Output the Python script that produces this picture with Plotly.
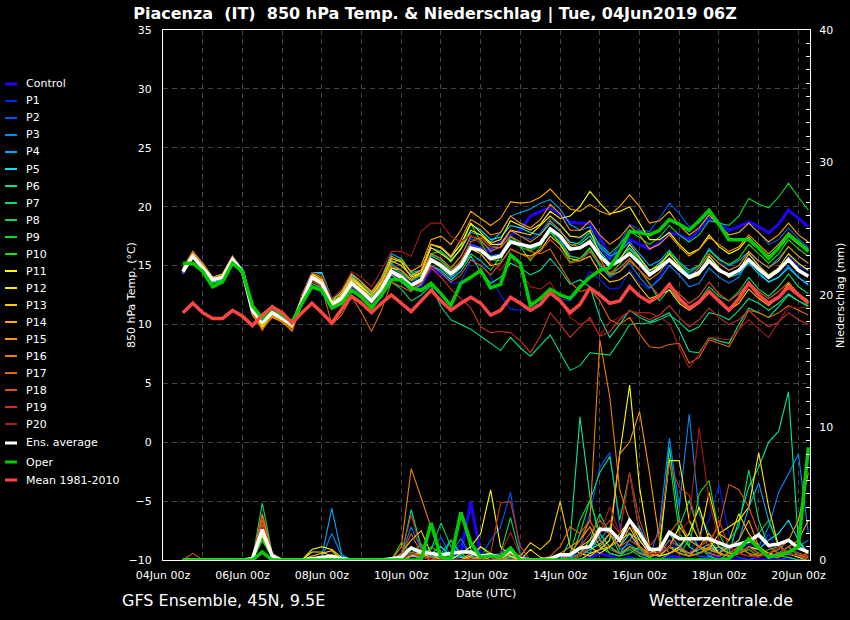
import pandas as pd
import plotly.graph_objects as go

# ---------------- time axis (6-hourly, run 04Jun2019 06Z) ----------------
times = pd.date_range("2019-06-04 12:00", periods=64, freq="6h")

# ---------------- 850 hPa temperature (deg C) ----------------
t_control = [14.3, 15.9, 14.9, 13.9, 14.1, 15.6, 14.6, 11.0,
             10.1, 11.1, 10.4, 9.9, 12.1, 14.2, 13.4, 11.5,
             12.3, 13.7, 12.9, 12.2, 12.8, 14.3, 13.8, 13.0,
             13.3, 14.8, 14.3, 13.8, 15.0, 16.6, 16.5, 16.2,
             17.0, 17.6, 18.0, 19.2, 19.6, 19.9, 19.3, 18.7,
             18.6, 18.6, 17.4, 15.7, 16.3, 17.2, 16.8, 16.4,
             16.9, 17.8, 17.6, 17.2, 18.0, 19.0, 18.6, 18.0,
             18.3, 18.7, 18.3, 17.8, 18.5, 19.7, 19.0, 18.3]
t_p01 = [14.4, 15.7, 14.7, 13.7, 13.9, 15.4, 14.4, 11.3,
         10.3, 10.9, 10.4, 10.0, 11.8, 13.8, 13.2, 11.8,
         12.4, 13.8, 12.6, 11.5, 13.3, 14.8, 14.2, 13.1,
         13.3, 15.0, 14.5, 13.5, 13.6, 15.4, 15.5, 14.0,
         12.5, 11.3, 11.2, 11.5, 11.8, 12.5, 12.2, 12.0,
         13.0, 14.5, 13.8, 13.0, 13.1, 14.6, 13.5, 13.0,
         14.0, 15.5, 14.8, 14.2, 15.0, 16.5, 15.5, 14.6,
         15.0, 16.2, 15.0, 14.0, 14.5, 15.8, 15.0, 14.5]
t_p02 = [14.6, 15.9, 14.8, 13.8, 14.0, 15.6, 14.7, 11.4,
         10.2, 11.2, 10.6, 10.1, 12.2, 14.3, 13.8, 11.9,
         12.0, 13.2, 12.5, 11.8, 13.2, 14.9, 14.3, 13.5,
         14.2, 16.0, 15.6, 14.8, 15.8, 17.3, 17.0, 16.4,
         16.8, 18.0, 17.5, 17.2, 17.8, 19.0, 18.4, 17.5,
         17.3, 17.8, 16.5, 15.5, 16.8, 18.5, 18.0, 17.9,
         19.0, 20.3, 19.4, 18.3, 18.6, 19.5, 18.5, 17.6,
         17.8, 18.6, 17.8, 16.8, 17.2, 18.2, 17.3, 16.5]
t_p03 = [14.5, 15.8, 14.9, 13.9, 14.2, 15.6, 14.5, 11.0,
         10.0, 10.8, 10.3, 9.8, 11.9, 14.1, 13.6, 11.6,
         12.2, 13.4, 12.9, 12.3, 13.5, 15.2, 14.6, 13.8,
         14.3, 15.8, 15.4, 14.6, 15.2, 16.8, 16.5, 15.8,
         16.0, 17.4, 17.0, 16.5, 16.8, 18.0, 17.2, 15.8,
         15.6, 16.2, 15.0, 14.0, 14.5, 15.2, 14.0, 13.1,
         13.8, 15.0, 14.2, 13.2, 13.5, 14.8, 14.0, 13.5,
         14.0, 15.5, 14.5, 13.6, 14.0, 15.0, 14.0, 13.3]
t_p04 = [14.6, 16.0, 15.0, 13.9, 14.1, 15.6, 14.5, 10.8,
         9.8, 10.9, 10.4, 9.9, 12.4, 14.4, 14.3, 12.0,
         12.8, 14.3, 13.6, 12.6, 14.0, 16.0, 15.6, 14.4,
         14.6, 16.5, 16.2, 15.5, 16.4, 17.8, 17.6, 17.0,
         17.8, 19.2, 19.5, 19.8, 20.3, 20.6, 19.8, 18.5,
         18.0, 18.3, 16.6, 15.8, 16.2, 17.0, 16.0, 15.0,
         15.4, 16.3, 15.3, 14.6, 15.0, 16.4, 15.6, 15.0,
         15.4, 16.2, 15.4, 14.8, 15.6, 16.6, 15.8, 15.2]
t_p05 = [14.7, 16.0, 15.1, 14.0, 14.2, 15.7, 14.6, 10.9,
         9.7, 10.7, 10.3, 9.8, 12.5, 14.4, 14.4, 12.2,
         12.6, 14.2, 13.3, 12.5, 13.6, 15.4, 15.0, 14.2,
         14.6, 16.8, 16.5, 15.8, 16.8, 18.5, 18.0, 17.2,
         17.4, 18.4, 18.2, 17.8, 17.6, 18.6, 17.9, 17.0,
         16.8, 17.5, 16.2, 15.2, 15.6, 16.5, 15.6, 14.5,
         15.2, 16.0, 15.0, 14.2, 14.5, 15.8, 14.8, 14.0,
         14.3, 15.2, 14.3, 13.6, 14.0, 14.8, 14.0, 13.4]
t_p06 = [14.4, 15.7, 14.7, 13.6, 13.8, 15.3, 14.3, 11.2,
         10.3, 11.1, 10.5, 10.0, 11.8, 13.7, 13.3, 11.5,
         12.0, 13.3, 12.6, 11.9, 12.8, 14.2, 13.6, 12.9,
         13.4, 15.0, 14.6, 13.8, 14.5, 15.8, 14.5, 13.5,
         14.0, 15.2, 14.8, 14.2, 14.6, 15.6, 14.6, 13.4,
         13.8, 13.2, 10.6, 8.9, 10.0, 11.2, 10.6, 10.2,
         10.6, 11.0, 9.5, 7.7, 7.6, 8.9, 8.6, 8.4,
         10.0, 11.4, 11.0, 10.6, 11.5, 12.5, 12.0, 11.5]
t_p07 = [14.3, 15.6, 14.6, 13.5, 13.7, 15.2, 14.3, 11.5,
         10.5, 11.2, 10.6, 10.1, 11.6, 13.5, 13.1, 11.3,
         11.8, 13.0, 12.4, 11.6, 12.3, 13.6, 13.0, 12.0,
         12.5, 13.3, 11.5, 10.4, 10.0, 9.6, 9.0, 8.4,
         7.8, 8.9, 8.0, 7.3, 8.2, 9.1, 7.6, 6.1,
         6.5, 7.6, 7.5, 7.4, 8.6, 10.0, 10.1, 10.1,
         10.4, 10.8, 10.2, 9.4, 9.8, 11.0, 10.8, 10.4,
         11.2, 12.2, 11.8, 11.2, 11.8, 12.6, 12.0, 11.6]
t_p08 = [14.6, 15.9, 14.9, 13.7, 14.0, 15.5, 14.4, 11.3,
         10.1, 11.0, 10.7, 10.2, 12.2, 13.9, 13.6, 12.0,
         12.5, 13.9, 13.2, 12.4, 13.3, 14.6, 14.1, 13.4,
         13.9, 15.4, 14.8, 14.0, 14.8, 16.0, 15.4, 14.6,
         15.8, 17.0, 16.6, 16.2, 16.8, 17.8, 17.0, 15.8,
         15.6, 16.4, 15.0, 14.2, 14.8, 15.6, 14.6, 13.5,
         12.0, 13.0, 12.0, 11.4, 12.0, 13.2, 12.4, 12.0,
         12.8, 14.0, 13.0, 12.4, 13.2, 14.3, 13.2, 12.6]
t_p09 = [14.5, 15.7, 14.8, 13.8, 14.1, 15.6, 14.5, 11.1,
         10.0, 10.8, 10.4, 9.9, 12.0, 14.1, 13.5, 11.6,
         12.4, 13.7, 12.9, 12.2, 13.2, 14.8, 14.4, 13.7,
         14.2, 15.9, 15.4, 14.6, 15.2, 16.6, 16.2, 15.5,
         15.9, 17.2, 16.8, 16.4, 16.8, 18.2, 17.4, 16.6,
         17.0, 17.8, 16.8, 16.0, 16.8, 17.9, 17.4, 16.8,
         17.4, 18.4, 17.6, 17.0, 17.6, 18.8, 18.6, 18.4,
         19.2, 20.7, 20.2, 19.9, 20.8, 22.0, 20.8, 19.7]
t_p10 = [14.7, 16.0, 14.9, 13.9, 14.2, 15.7, 14.6, 11.0,
         9.9, 10.9, 10.3, 9.8, 12.1, 14.2, 13.7, 11.8,
         12.3, 13.6, 13.0, 12.3, 13.5, 15.2, 15.6, 14.4,
         14.0, 16.0, 16.2, 15.3, 16.5, 18.6, 17.0, 15.5,
         15.4, 17.5, 16.6, 15.4, 16.6, 18.0, 16.8, 15.3,
         15.6, 16.5, 15.2, 14.3, 15.1, 16.4, 15.4, 14.3,
         15.0, 16.2, 15.2, 14.4, 15.0, 16.3, 15.5, 15.1,
         15.6, 16.8, 16.0, 15.2, 16.0, 17.2, 16.4, 15.8]
t_p11 = [14.6, 16.0, 15.0, 13.9, 14.1, 15.6, 14.5, 10.9,
         9.8, 10.7, 10.2, 9.5, 12.3, 14.3, 13.8, 11.6,
         12.6, 14.0, 13.2, 12.4, 13.6, 15.6, 15.3, 14.0,
         14.4, 16.8, 16.5, 15.7, 16.8, 18.6, 17.8, 16.9,
         17.2, 18.8, 18.4, 18.0, 18.5, 19.6, 19.0, 19.2,
         20.0, 21.3, 20.3, 19.4, 19.6, 20.0, 18.6, 17.2,
         17.2, 17.8, 16.8, 16.0, 16.4, 17.6, 16.6, 16.0,
         16.4, 17.4, 16.5, 15.8, 16.4, 17.5, 16.8, 16.2]
t_p12 = [14.5, 15.9, 14.9, 13.9, 14.0, 15.5, 14.4, 11.0,
         10.1, 11.0, 10.4, 9.7, 12.0, 14.0, 13.6, 11.9,
         12.4, 13.8, 13.1, 12.0, 13.0, 14.8, 14.6, 13.8,
         14.4, 16.5, 16.0, 15.4, 16.4, 18.0, 17.6, 16.8,
         16.8, 18.0, 17.8, 17.6, 18.4, 19.2, 18.5, 17.5,
         17.4, 18.0, 16.0, 14.8, 15.5, 16.8, 15.7, 14.6,
         15.0, 16.0, 15.0, 13.9, 14.2, 15.8, 14.8, 14.0,
         14.6, 16.0, 15.0, 14.2, 14.8, 16.0, 15.2, 14.6]
t_p13 = [14.4, 15.8, 14.8, 13.8, 13.9, 15.4, 14.5, 11.2,
         10.3, 11.1, 10.6, 10.0, 11.9, 13.9, 13.4, 11.7,
         12.2, 13.6, 12.9, 12.1, 13.1, 14.6, 14.2, 13.4,
         13.8, 15.4, 15.0, 14.4, 15.0, 16.4, 16.0, 15.0,
         15.2, 16.4, 16.0, 15.8, 16.3, 17.5, 16.8, 15.6,
         15.4, 15.8, 14.4, 13.6, 13.8, 14.4, 13.2, 12.2,
         12.5, 12.9, 11.8, 11.2, 11.8, 12.9, 12.0, 11.2,
         11.8, 13.0, 12.2, 11.6, 12.3, 13.5, 12.6, 12.0]
t_p14 = [14.8, 16.2, 15.2, 14.0, 14.3, 15.8, 14.6, 11.0,
         9.7, 10.7, 10.3, 9.8, 12.5, 14.4, 14.0, 12.0,
         12.8, 14.3, 13.6, 12.8, 13.9, 15.8, 15.4, 14.5,
         15.0, 17.2, 17.5, 16.8, 18.0, 19.6, 19.0, 18.4,
         19.0, 20.4, 20.3, 20.4, 20.8, 21.5, 20.6, 19.8,
         19.6, 20.2, 19.6, 19.3, 20.0, 21.0, 20.0, 18.6,
         18.8, 19.6, 18.4, 17.6, 18.2, 19.3, 18.4, 17.6,
         17.8, 18.6, 17.8, 17.0, 17.6, 18.6, 17.6, 17.0]
t_p15 = [14.6, 16.1, 15.0, 14.0, 14.1, 15.6, 14.6, 11.1,
         10.0, 11.0, 10.4, 9.9, 12.3, 14.2, 13.7, 11.6,
         12.5, 14.0, 13.4, 12.7, 13.7, 15.4, 15.0, 14.1,
         14.6, 16.8, 16.6, 15.8, 17.2, 18.9, 18.4, 17.6,
         17.8, 19.2, 18.6, 18.2, 18.9, 20.2, 19.4, 18.0,
         18.0, 18.8, 17.6, 16.8, 17.4, 18.4, 17.6, 16.4,
         16.8, 17.6, 16.6, 15.8, 16.4, 17.4, 16.8, 16.2,
         16.6, 17.6, 16.8, 16.0, 16.8, 17.8, 17.0, 16.4]
t_p16 = [14.7, 16.2, 15.1, 13.9, 14.0, 15.6, 14.4, 10.8,
         9.6, 10.6, 10.2, 9.5, 12.0, 14.1, 13.6, 11.8,
         12.3, 13.6, 13.0, 12.4, 13.4, 15.0, 14.6, 13.8,
         14.3, 16.0, 15.6, 14.8, 15.8, 17.5, 17.2, 16.2,
         16.6, 18.0, 17.5, 17.0, 17.6, 18.8, 18.0, 16.8,
         16.6, 17.2, 15.6, 14.2, 14.5, 15.4, 14.6, 13.8,
         14.4, 15.6, 14.8, 14.0, 14.8, 16.0, 15.2, 14.6,
         15.0, 16.2, 15.4, 14.8, 15.4, 16.6, 15.8, 15.2]
t_p17 = [14.5, 16.0, 15.0, 13.9, 14.0, 15.5, 14.3, 11.0,
         9.5, 10.8, 10.3, 9.4, 11.8, 13.8, 13.2, 10.0,
         10.8, 12.4, 11.0, 9.4, 11.2, 13.6, 13.2, 12.8,
         13.6, 15.6, 15.2, 14.5, 15.4, 17.0, 17.4, 16.6,
         16.5, 17.5, 17.0, 16.2, 16.0, 16.4, 15.0, 13.6,
         12.8, 13.0, 12.0, 10.4, 10.0, 10.6, 9.2, 8.1,
         8.0, 8.3, 8.4, 6.7, 7.2, 8.7, 8.4, 8.1,
         9.6, 11.2, 11.0, 10.6, 11.0, 11.6, 11.2, 10.8]
t_p18 = [14.4, 15.7, 14.8, 13.8, 13.9, 15.4, 14.4, 11.4,
         10.4, 11.2, 10.6, 10.1, 12.0, 13.8, 13.3, 11.5,
         12.0, 13.4, 12.7, 12.0, 13.0, 14.4, 13.9, 13.2,
         13.6, 15.0, 14.4, 13.6, 14.2, 15.5, 15.0, 14.2,
         15.2, 16.4, 16.0, 15.6, 16.2, 17.2, 16.4, 15.2,
         15.4, 16.2, 15.2, 14.4, 14.8, 15.6, 14.6, 13.4,
         12.4, 13.4, 12.6, 11.8, 12.4, 13.6, 12.6, 12.0,
         12.6, 13.6, 12.8, 12.2, 12.8, 13.6, 12.6, 11.8]
t_p19 = [14.3, 15.6, 14.6, 13.7, 13.9, 15.4, 14.5, 11.3,
         10.4, 11.3, 10.7, 10.2, 11.9, 13.7, 13.2, 11.6,
         12.1, 13.3, 12.6, 11.8, 12.9, 14.3, 13.8, 13.0,
         13.5, 14.8, 14.0, 13.0, 12.2, 11.4, 9.8, 9.3,
         9.4, 9.3, 8.6, 7.6, 9.0, 11.0, 10.0, 8.9,
         9.8, 10.6, 9.0, 9.4, 10.4, 11.2, 10.8, 10.4,
         10.8, 11.6, 10.6, 9.8, 10.4, 11.4, 10.6, 10.0,
         10.4, 11.2, 10.4, 9.8, 10.2, 11.0, 10.4, 10.0]
t_p20 = [14.5, 15.9, 14.9, 13.9, 14.1, 15.6, 14.6, 11.2,
         10.3, 11.2, 10.8, 10.3, 12.4, 14.4, 14.2, 12.2,
         13.0, 14.5, 14.0, 13.2, 14.6, 16.2, 16.2, 15.8,
         17.9, 18.6, 18.6, 17.5, 17.0, 17.6, 16.8, 15.2,
         14.6, 15.8, 14.6, 13.2, 13.0, 13.6, 12.2, 10.6,
         10.0, 10.4, 9.1, 10.2, 10.6, 11.1, 11.0, 11.0,
         10.6, 10.1, 8.0, 6.3, 7.5, 8.9, 8.8, 8.7,
         9.6, 10.4, 9.6, 8.9, 10.2, 11.5, 11.4, 11.5]
t_ensavg = [14.5, 15.8, 14.8, 13.8, 14.0, 15.5, 14.5, 11.2,
            10.2, 11.0, 10.5, 10.0, 12.0, 14.0, 13.5, 11.7,
            12.2, 13.5, 12.8, 12.0, 13.0, 14.5, 14.0, 13.3,
            13.8, 15.5, 15.0, 14.3, 15.0, 16.5, 16.3, 15.6,
            15.8, 17.0, 16.8, 16.6, 16.9, 18.1, 17.5, 16.4,
            16.5, 17.0, 15.8, 15.0, 15.4, 16.0, 15.2, 14.2,
            14.8, 15.5, 14.7, 14.0, 14.4, 15.4, 14.6, 14.2,
            14.6, 15.5, 14.7, 14.0, 14.6, 15.5, 14.6, 14.1]
t_oper = [15.2, 15.2, 14.5, 13.2, 13.6, 15.2, 14.5, 11.6,
          10.5, 11.5, 10.8, 10.2, 11.8, 13.2, 12.9, 11.4,
          11.8, 12.9, 12.3, 11.4, 12.5, 13.8, 13.8, 13.1,
          12.9, 13.5, 12.6, 11.6, 13.5, 14.0, 14.6, 13.1,
          13.4, 15.9, 15.2, 11.6, 12.2, 13.0, 12.5, 12.2,
          13.2, 14.0, 14.6, 14.8, 16.2, 17.9, 17.8, 17.6,
          18.0, 18.9, 18.5, 18.0, 18.8, 19.7, 18.5, 17.2,
          17.2, 17.2, 16.5, 15.6, 16.5, 17.6, 17.0, 16.2]
t_mean = [11.0, 11.8, 11.0, 10.5, 10.5, 11.2, 10.7, 9.9,
          10.8, 11.5, 11.0, 10.1, 11.0, 11.8, 11.0, 10.1,
          11.3, 12.4, 11.8, 11.0, 11.8, 12.5, 11.8, 11.1,
          12.0, 12.9, 12.0, 11.2, 11.8, 12.3, 11.8, 10.8,
          11.2, 12.3, 11.8, 11.2, 11.7, 12.7, 12.0, 11.0,
          11.7, 13.1, 12.5, 11.8, 12.0, 13.2, 12.4, 11.9,
          12.4, 13.4, 12.2, 11.4, 11.9, 12.8, 12.0, 11.2,
          12.2, 13.5, 12.5, 11.8, 12.3, 13.2, 12.5, 11.8]

# ---------------- precipitation (mm / 6h) ----------------
p_control = [0, 0, 0, 0, 0, 0, 0, 0,
             2.3, 0.2, 0, 0, 0, 0, 0.1, 0.2,
             0, 0, 0, 0, 0, 0, 0, 0.3,
             0.2, 0.3, 0, 0.2, 0.5, 4.4, 0.3, 0,
             0, 0.2, 0, 0, 0, 0, 0.2, 0.3,
             0, 0.2, 0.5, 0.3, 0, 0.2, 0, 0,
             0, 0.3, 0.2, 0, 0, 0.3, 0.2, 0,
             0, 0, 0, 0, 0, 0, 0, 0]
p_p01 = [0, 0, 0, 0, 0, 0, 0, 0,
         2.0, 0.3, 0, 0, 0, 0, 0, 0.1,
         0, 0, 0, 0, 0, 0, 0.2, 1.0,
         0.3, 0, 0, 0.4, 1.2, 0.5, 0, 0,
         0.2, 0.5, 0, 0, 0, 0, 0.3, 0,
         0.5, 1.2, 2.0, 1.0, 0.3, 0.8, 0.5, 0,
         0.3, 1.5, 0.8, 0.5, 1.8, 3.0, 5.7, 2.0,
         0.8, 1.2, 0.5, 2.0, 0.6, 0.3, 0.5, 0.2]
p_p02 = [0, 0, 0, 0, 0, 0, 0, 0,
         2.2, 0.2, 0, 0, 0, 0, 0, 0.2,
         0, 0, 0, 0, 0, 0, 0.3, 0.5,
         0.8, 0.9, 1.7, 0.3, 0, 0.4, 0.2, 1.5,
         2.5, 5.1, 0.5, 0, 0, 0, 0, 0.2,
         0.8, 3.5, 7.0, 8.1, 2.5, 2.0, 0.8, 0.3,
         0.5, 1.5, 1.0, 0.5, 0.3, 0.2, 0.8, 0.5,
         0.2, 0, 0.3, 0.5, 0, 0.2, 0, 0]
p_p03 = [0, 0, 0, 0, 0, 0, 0, 0,
         1.7, 0.3, 0, 0, 0, 0, 0.2, 2.0,
         0.3, 0, 0, 0, 0, 0, 0.4, 2.5,
         0.8, 0.3, 0.2, 0.5, 1.6, 0.4, 0, 0.3,
         0.5, 1.0, 0, 0, 0, 0, 0.5, 0.2,
         0.5, 1.0, 1.5, 2.5, 0.8, 1.2, 0.6, 0.2,
         2.5, 9.2, 4.0, 11.0, 3.5, 2.0, 0.5, 0.3,
         0.5, 1.5, 1.0, 2.5, 5.1, 6.5, 8.0, 2.0]
p_p04 = [0, 0, 0, 0, 0, 0, 0, 0,
         1.5, 0.2, 0, 0, 0, 0, 0.3, 3.9,
         0.4, 0, 0, 0, 0, 0, 0, 0.5,
         0.3, 0, 0.5, 1.5, 0.3, 0, 0, 0,
         0, 0.3, 0, 0, 0, 0, 0, 0.3,
         0.8, 0.5, 2.0, 1.0, 0.5, 1.5, 2.5, 0.8,
         0.3, 1.0, 0.8, 2.0, 1.0, 0.5, 1.0, 0.8,
         1.5, 4.0, 5.8, 3.0, 1.2, 0.5, 1.0, 1.5]
p_p05 = [0, 0, 0, 0, 0, 0, 0, 0,
         2.0, 0.3, 0, 0, 0, 0, 0, 0.3,
         0, 0, 0, 0, 0, 0, 0, 0.3,
         0.2, 0.5, 1.0, 0.3, 0.2, 0, 0.2, 0,
         0.5, 0.3, 0, 0, 0, 0, 0, 0,
         0.3, 0.8, 1.2, 2.0, 1.0, 2.0, 1.5, 0.5,
         0.5, 2.0, 1.0, 0.5, 0.8, 1.2, 0.5, 0.3,
         0.5, 1.0, 0.8, 1.5, 2.0, 3.0, 1.5, 0.5]
p_p06 = [0, 0, 0, 0, 0, 0, 0, 0,
         2.0, 0.3, 0, 0, 0, 0, 0, 0.2,
         0, 0, 0, 0, 0, 0, 0.3, 3.8,
         1.0, 0.3, 0, 0, 0.5, 0, 0, 0,
         0, 0.5, 0, 0, 0, 0, 0, 1.5,
         10.8, 4.8, 1.5, 0.5, 0.3, 1.0, 0.5, 0.2,
         0.5, 8.5, 3.0, 1.0, 0.5, 0.8, 1.0, 0.5,
         3.0, 5.5, 7.0, 8.9, 9.7, 12.7, 1.3, 0.5]
p_p07 = [0, 0, 0, 0, 0, 0, 0, 0,
         4.3, 0.5, 0, 0, 0, 0, 0, 0,
         0, 0, 0, 0, 0, 0, 0.5, 1.0,
         0.3, 0.5, 0.2, 0, 0, 0.3, 0, 0,
         0, 0.2, 0, 0, 0, 0, 0, 0,
         2.0, 4.5, 6.6, 7.8, 3.0, 6.6, 2.0, 0.5,
         0.3, 1.0, 2.5, 4.5, 2.0, 1.0, 0.5, 1.5,
         2.5, 6.8, 3.0, 1.0, 0.5, 1.0, 0.3, 0]
p_p08 = [0, 0, 0, 0, 0, 0, 0, 0,
         3.0, 0.3, 0, 0, 0, 0, 0, 0,
         0, 0, 0, 0, 0, 0, 0, 1.0,
         0.5, 0.8, 2.8, 1.0, 0.3, 0, 0, 0,
         0.5, 3.2, 0.3, 0, 0, 0, 0, 0,
         0.5, 1.5, 3.5, 2.0, 0.5, 1.0, 0.8, 0.2,
         0.5, 1.0, 0.5, 1.5, 1.0, 0.3, 0, 0.5,
         1.0, 0.5, 0.3, 0.8, 1.0, 0.5, 0.2, 0]
p_p09 = [0, 0, 0, 0, 0, 0, 0, 0,
         2.1, 0.2, 0, 0, 0, 0, 0, 0,
         0, 0, 0, 0, 0, 0, 0, 0.5,
         1.2, 0.3, 0, 1.5, 0.5, 0, 1.0, 0.3,
         0, 0.5, 0, 0, 0, 0, 0, 0.5,
         3.0, 4.5, 2.0, 1.0, 0.5, 0.8, 0.3, 0,
         0, 0.5, 0.8, 0.3, 0.5, 1.0, 0.5, 0.3,
         0.8, 1.5, 2.0, 3.0, 1.0, 0.5, 0.3, 0]
p_p10 = [0, 0, 0, 0, 0, 0, 0, 0,
         1.5, 0.2, 0, 0, 0, 0, 0, 0,
         0, 0, 0, 0, 0, 0, 1.3, 0.5,
         0, 1.0, 0.5, 0.3, 3.5, 0.8, 0, 0,
         0, 0.3, 0, 0, 0, 0, 0, 0,
         0.5, 1.5, 1.0, 0.5, 0.3, 0.5, 1.0, 0.3,
         0.5, 7.7, 2.0, 1.0, 5.0, 6.0, 2.0, 0.5,
         0.5, 0.8, 0.3, 0.5, 0.3, 0.2, 0, 0]
p_p11 = [0, 0, 0, 0, 0, 0, 0, 0,
         1.8, 0.2, 0, 0, 0, 0.8, 1.0, 0.8,
         0.2, 0, 0, 0, 0, 0, 0, 0.5,
         0.3, 0, 0, 0, 0.5, 1.0, 2.0, 5.3,
         1.0, 0.3, 0, 0, 0, 0, 0, 0,
         0, 0.5, 0.8, 1.5, 8.0, 13.2, 5.5, 1.0,
         0.3, 0.5, 1.0, 2.0, 4.0, 1.5, 0.5, 0.3,
         0.5, 1.0, 0.8, 0.5, 0.3, 0.5, 0.2, 0]
p_p12 = [0, 0, 0, 0, 0, 0, 0, 0,
         2.5, 0.3, 0, 0, 0, 0.6, 0.6, 0.3,
         0, 0, 0, 0, 0, 0, 0, 0.3,
         0.5, 0.2, 0, 0, 0, 0.3, 1.0, 0.5,
         0, 0, 0, 0.8, 0.2, 0, 0, 0,
         0.3, 1.0, 0.5, 1.0, 2.0, 3.0, 1.5, 0.5,
         1.0, 7.5, 7.5, 3.0, 1.5, 5.1, 2.0, 2.5,
         3.0, 4.0, 8.1, 4.0, 1.0, 0.5, 1.0, 0.5]
p_p13 = [0, 0, 0, 0, 0, 0, 0, 0,
         2.2, 0.3, 0, 0, 0, 0.3, 0.5, 0.7,
         0, 0, 0, 0, 0, 0, 0.5, 1.5,
         2.2, 0.5, 0, 0, 0, 0, 0.3, 0,
         0, 0.5, 0.3, 1.3, 0.8, 1.5, 4.4, 1.0,
         0.5, 0.3, 0.8, 1.0, 1.5, 2.0, 1.0, 0.3,
         0.5, 1.0, 2.5, 1.5, 1.0, 0.8, 2.0, 1.5,
         3.5, 2.0, 1.0, 0.5, 0.3, 0.5, 0.3, 0]
p_p14 = [0, 0, 0, 0, 0, 0, 0, 0,
         2.7, 0.4, 0, 0, 0, 0, 0, 0,
         0, 0, 0, 0, 0, 0, 0, 0.3,
         0.3, 0, 0, 0, 0, 0.5, 0.3, 0,
         0, 0, 0, 0, 0, 0, 0.3, 0.5,
         1.0, 1.5, 2.5, 2.0, 1.0, 2.5, 1.0, 0.5,
         0.3, 1.0, 0.5, 0.3, 1.0, 2.0, 1.0, 0.5,
         0.5, 1.0, 0.5, 0.3, 0.5, 1.0, 1.5, 3.0]
p_p15 = [0, 0, 0, 0, 0, 0, 0, 0,
         2.5, 0.3, 0, 0, 0, 0, 0, 0,
         0, 0, 0, 0, 0, 0, 0, 0.5,
         0.5, 0, 0, 0, 0, 0, 0.2, 0,
         0, 0, 0, 0, 0, 0, 0.5, 1.0,
         1.5, 2.5, 1.0, 2.0, 8.0, 8.9, 11.2, 6.6,
         1.5, 0.5, 0.8, 0.5, 1.0, 0.8, 0.5, 1.0,
         1.5, 3.0, 1.0, 0.5, 0.8, 1.5, 3.0, 6.6]
p_p16 = [0, 0, 0, 0, 0, 0, 0, 0,
         3.5, 0.5, 0, 0, 0, 0, 0, 0,
         0, 0, 0, 0, 0, 0, 1.0, 6.9,
         4.7, 2.5, 0.2, 0, 0, 0, 0, 0,
         0, 0, 0, 0, 0, 0, 0, 0.5,
         1.5, 3.0, 16.6, 12.3, 5.3, 3.0, 1.0, 0.5,
         0.5, 1.0, 0.5, 0.3, 0.5, 1.0, 0.5, 0.3,
         0.5, 0.3, 0.5, 0.3, 0.2, 0.5, 0.3, 0.2]
p_p17 = [0, 0, 0, 0, 0, 0, 0, 0,
         3.3, 0.5, 0, 0, 0, 0, 0, 0.2,
         0, 0, 0, 0, 0, 0, 0, 0.5,
         0.3, 0, 0, 0, 0, 0.2, 0, 0,
         0, 0, 0, 0, 0, 0.3, 1.0, 2.5,
         2.0, 3.0, 1.5, 0.8, 0.5, 1.0, 0.5, 0.3,
         1.0, 2.0, 3.0, 1.5, 1.0, 0.5, 0.3, 0.5,
         1.0, 0.5, 0.3, 0.5, 1.0, 0.5, 0.3, 0.5]
p_p18 = [0, 0.5, 0, 0, 0, 0, 0, 0.2,
         3.0, 0.4, 0, 0, 0, 0, 0, 0,
         0, 0, 0, 0, 0, 0, 0.3, 2.0,
         0.5, 0, 0, 0, 0, 0, 0, 0,
         0, 0.5, 0, 0, 0, 0, 0, 0.3,
         1.0, 2.0, 3.0, 2.0, 1.0, 1.5, 1.0, 0.3,
         0.5, 1.5, 1.0, 0.5, 1.0, 1.5, 2.5, 5.7,
         5.3, 4.0, 2.0, 1.0, 0.5, 1.0, 0.5, 0.3]
p_p19 = [0, 0, 0, 0, 0, 0, 0, 0,
         2.8, 0.4, 0, 0, 0, 0, 0, 0,
         0, 0, 0, 0, 0, 0, 0.5, 3.4,
         0.8, 0.2, 0, 0, 0, 0, 0, 0.5,
         4.3, 4.4, 1.0, 0, 0, 0, 0, 0,
         0.5, 1.0, 2.0, 3.0, 2.0, 6.6, 3.0, 1.0,
         2.0, 7.3, 5.5, 4.9, 2.0, 1.0, 3.0, 1.0,
         0.5, 1.0, 0.5, 0.3, 0.5, 1.0, 0.5, 0.3]
p_p20 = [0, 0, 0, 0, 0, 0, 0, 0,
         2.5, 0.3, 0, 0, 0, 0, 0, 0,
         0, 0, 0, 0, 0, 0, 0, 0.5,
         0.3, 0, 0, 0, 0, 0, 0, 0,
         0.5, 2.1, 0.3, 0, 0, 0, 0, 0,
         0.3, 1.0, 2.0, 4.0, 2.0, 6.6, 2.0, 0.5,
         0.5, 1.0, 2.0, 3.0, 10.0, 4.5, 1.5, 1.0,
         0.5, 0.3, 0.2, 0.5, 1.0, 0.5, 0.3, 0]
p_ensavg = [0, 0, 0, 0, 0, 0, 0, 0.1,
            2.3, 0.3, 0, 0, 0, 0.1, 0.2, 0.3,
            0.1, 0, 0, 0, 0, 0.1, 0.2, 0.9,
            0.6, 0.5, 0.4, 0.5, 0.6, 0.6, 0.3, 0.4,
            0.2, 0.7, 0.1, 0, 0, 0.1, 0.4, 0.4,
            0.9, 1.0, 2.3, 2.3, 1.5, 3.0, 2.0, 0.8,
            0.8, 2.1, 1.6, 1.6, 1.6, 1.6, 1.3, 1.0,
            1.2, 1.4, 1.9, 1.1, 1.2, 1.5, 0.9, 0.6]
p_oper = [0, 0, 0, 0, 0, 0, 0, 0,
          0.6, 0, 0, 0, 0, 0, 0, 0,
          0, 0, 0, 0, 0, 0, 0, 0,
          0, 2.8, 0.2, 0.1, 3.6, 1.3, 0.2, 0.3,
          0.2, 0.9, 0, 0, 0, 0, 0, 0,
          0, 0, 0, 0, 0, 0, 0, 0,
          0, 0, 0, 0, 0, 0, 0, 0.1,
          0.8, 1.6, 0.9, 0.2, 0.4, 0.6, 1.0, 8.5]

# ---------------- series table (names, data, colours) ----------------
series_names = ["Control"] + [f"P{k}" for k in range(1, 21)] + ["Ens. average", "Oper", "Mean 1981-2010"]
series_temp = [t_control, t_p01, t_p02, t_p03, t_p04, t_p05, t_p06, t_p07, t_p08, t_p09, t_p10,
               t_p11, t_p12, t_p13, t_p14, t_p15, t_p16, t_p17, t_p18, t_p19, t_p20,
               t_ensavg, t_oper, t_mean]
series_prec = [p_control, p_p01, p_p02, p_p03, p_p04, p_p05, p_p06, p_p07, p_p08, p_p09, p_p10,
               p_p11, p_p12, p_p13, p_p14, p_p15, p_p16, p_p17, p_p18, p_p19, p_p20,
               p_ensavg, p_oper, None]
series_colors = ["#2200ff", "#0022ff", "#0055ff", "#0088ff", "#00aaff", "#00e8ff", "#00e899",
                 "#00dd77", "#00dd55", "#00dd33", "#22dd00", "#ffff00", "#ffe600", "#ffcc00",
                 "#ffaa00", "#ff9900", "#ee8000", "#e86600", "#dd5022", "#cc3322", "#aa1a1a",
                 "#ffffff", "#00cc00", "#ff4444"]
series_widths = [3] + [1.1] * 20 + [3.5, 3.5, 3.5]

FONT = "DejaVu Sans"
fig = go.Figure()

for name, tv, col, w in zip(series_names, series_temp, series_colors, series_widths):
    fig.add_trace(go.Scatter(x=times, y=tv, mode="lines", name=name,
                             line=dict(color=col, width=w), yaxis="y", showlegend=False))
for name, pv, col, w in zip(series_names, series_prec, series_colors, series_widths):
    if pv is None:
        continue
    fig.add_trace(go.Scatter(x=times, y=pv, mode="lines", name=name + " (mm)",
                             line=dict(color=col, width=w), yaxis="y2", showlegend=False))

# ---------------- layout ----------------
L, R, T, B = 163, 40, 30, 60
W, H = 850, 620
pw, ph = W - L - R, H - T - B

def px(xpix):
    return (xpix - L) / pw

def py(ypix):
    return (H - B - ypix) / ph

grid = "#444444"
fig.update_layout(
    width=W, height=H,
    margin=dict(l=L, r=R, t=T, b=B, pad=0),
    paper_bgcolor="#000000", plot_bgcolor="#000000",
    font=dict(family=FONT, color="#ffffff", size=11),
    showlegend=False,
    title=dict(text="<b>Piacenza \u00a0(IT) \u00a0850 hPa Temp. &amp; Niederschlag | Tue, 04Jun2019 06Z</b>",
               x=435 / W, xanchor="center", xref="container",
               y=1 - 13 / H, yanchor="middle", yref="container",
               font=dict(family=FONT, size=16, color="#ffffff")),
    xaxis=dict(type="date", range=["2019-06-04 00:00", "2019-06-20 07:00"],
               tick0="2019-06-04", dtick=2 * 86400000, tickformat="%d%b %Hz",
               showgrid=True, gridcolor=grid, griddash="5px,4px", gridwidth=1,
               minor=dict(dtick=86400000, tick0="2019-06-04", showgrid=True,
                          gridcolor=grid, griddash="5px,4px", gridwidth=1),
               showline=True, mirror=True, linecolor="#ffffff", linewidth=1,
               ticks="", ticklabelstandoff=5, tickfont=dict(size=11, color="#ffffff"),
               zeroline=False),
    yaxis=dict(range=[-10, 35], tick0=-10, dtick=5,
               showgrid=True, gridcolor=grid, griddash="5px,4px", gridwidth=1,
               showline=True, linecolor="#ffffff", linewidth=1,
               ticks="", ticklabelstandoff=8, tickfont=dict(size=11, color="#ffffff"),
               zeroline=False),
    yaxis2=dict(range=[0, 40], tick0=0, dtick=10, overlaying="y", side="right",
                showgrid=False, zeroline=False,
                showline=True, linecolor="#ffffff", linewidth=1,
                ticks="inside", ticklen=4, tickcolor="#ffffff", tickwidth=1,
                minor=dict(dtick=1, ticks="inside", ticklen=4, tickcolor="#ffffff", tickwidth=1),
                ticklabelstandoff=6,
                tickfont=dict(size=11, color="#ffffff")),
)

ann = [
    dict(text="Date (UTC)", x=px(486), y=py(593), xref="paper", yref="paper",
         xanchor="center", yanchor="middle",
         showarrow=False, font=dict(size=11, color="#ffffff", family=FONT)),
    dict(text="850 hPa Temp. (°C)", x=px(131), y=py(295), xref="paper", yref="paper",
         xanchor="center", yanchor="middle",
         showarrow=False, textangle=-90, font=dict(size=11, color="#ffffff", family=FONT)),
    dict(text="Niederschlag (mm)", x=px(840), y=py(295), xref="paper", yref="paper",
         xanchor="center", yanchor="middle",
         showarrow=False, textangle=-90, font=dict(size=11, color="#ffffff", family=FONT)),
    dict(text="GFS Ensemble, 45N, 9.5E", x=px(120), y=py(600), xref="paper", yref="paper",
         xanchor="left", yanchor="middle", showarrow=False,
         font=dict(size=16, color="#ffffff", family=FONT)),
    dict(text="Wetterzentrale.de", x=px(795), y=py(600), xref="paper", yref="paper",
         xanchor="right", yanchor="middle", showarrow=False,
         font=dict(size=16, color="#ffffff", family=FONT)),
]

# manual legend (left side)
legend_y = [84 + 17 * k for k in range(21)] + [443, 462, 480]
shapes = []
for name, col, w, ly in zip(series_names, series_colors, series_widths, legend_y):
    shapes.append(dict(type="line", xref="paper", yref="paper",
                       x0=px(5), x1=px(17), y0=py(ly), y1=py(ly),
                       line=dict(color=col, width=2 if w < 2 else 3)))
    ann.append(dict(text=name, x=px(24), y=py(ly), xref="paper", yref="paper",
                    xanchor="left", yanchor="middle", showarrow=False,
                    font=dict(size=11, color="#ffffff", family=FONT)))

fig.update_layout(annotations=ann, shapes=shapes)
fig.write_html("out.html", config={"displayModeBar": False},
               post_script="document.body.style.margin='0px';")
